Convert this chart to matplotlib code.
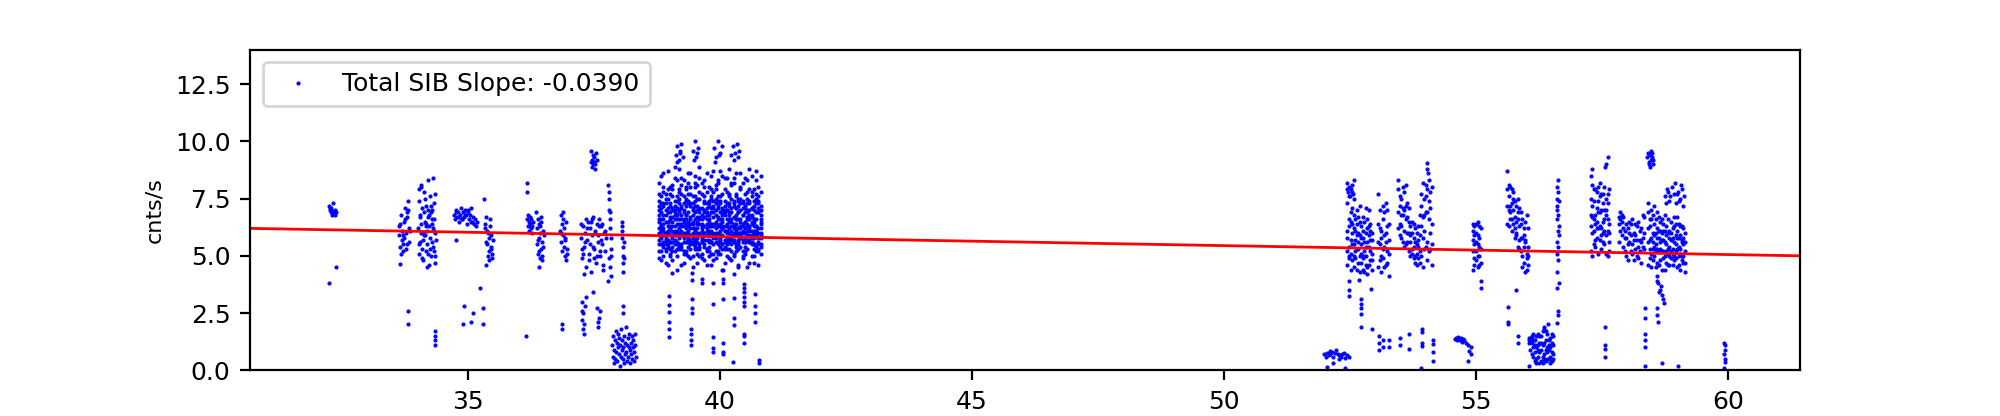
import numpy as np
import matplotlib
matplotlib.use('Agg')
import matplotlib.pyplot as plt

plt.rcParams['font.size'] = 9

# fit shown in the legend
fit_slope = -0.0390
fit_intercept = 7.396
x_lim = [30.67, 61.43]
y_lim = [0, 14]

# ---- single points (time, rate) ----
t_a = [32.24, 32.25, 32.27, 32.28, 32.30, 32.31, 32.33, 32.35, 32.36, 32.38, 32.26, 32.29, 32.34, 32.24, 32.38]
r_a = [7.2, 7.0, 6.9, 7.1, 6.8, 7.3, 6.9, 7.0, 6.8, 6.9, 7.1, 6.95, 6.85, 3.8, 4.5]

t_b = [33.62, 33.63, 33.65, 33.66, 33.68, 33.69, 33.70, 33.72, 33.73, 33.75, 33.76, 33.78, 33.79, 33.80, 33.82,
       33.83, 33.64, 33.67, 33.71, 33.74, 33.77, 33.81, 33.84, 33.70, 33.78, 33.65, 33.81, 33.81]
r_b = [5.9, 6.3, 5.4, 6.8, 5.7, 6.1, 5.2, 6.5, 5.8, 7.1, 6.0, 5.5, 6.7, 7.4, 6.2,
       5.6, 6.4, 5.1, 5.9, 6.6, 5.3, 7.0, 6.1, 5.5, 6.9, 4.65, 2.6, 2.0]

t_c = [34.01, 34.02, 34.03, 34.04, 34.05, 34.06, 34.07, 34.08, 34.09, 34.10, 34.11, 34.12, 34.13, 34.14, 34.15,
       34.16, 34.17, 34.18, 34.19, 34.20, 34.21, 34.22, 34.23, 34.24, 34.25, 34.26, 34.27, 34.28, 34.29, 34.30,
       34.31, 34.32, 34.33, 34.34, 34.35, 34.36, 34.02, 34.05, 34.08, 34.11, 34.14, 34.17, 34.20, 34.23, 34.26,
       34.29, 34.32, 34.35, 34.03, 34.07, 34.12, 34.16, 34.21, 34.25, 34.30, 34.34, 34.06, 34.18, 34.28, 34.33,
       34.34, 34.34, 34.34, 34.34]
r_c = [6.2, 5.1, 7.4, 6.8, 5.6, 8.0, 6.4, 5.3, 7.1, 6.0, 4.8, 6.9, 7.8, 5.9, 6.5,
       5.2, 7.2, 6.1, 5.5, 8.3, 6.7, 4.6, 6.3, 7.6, 5.8, 6.9, 5.0, 7.0, 6.4, 8.4,
       5.4, 6.6, 7.3, 4.7, 6.0, 5.7, 7.9, 6.7, 4.9, 5.7, 7.5, 6.3, 5.1, 6.8, 7.2,
       5.6, 6.1, 7.7, 5.5, 6.0, 5.9, 6.4, 7.0, 5.3, 6.2, 5.0, 8.1, 4.5, 6.6, 5.2,
       1.7, 1.5, 1.3, 1.1]

t_d = [34.72, 34.74, 34.76, 34.78, 34.80, 34.82, 34.84, 34.86, 34.88, 34.90, 34.92, 34.94, 34.96, 34.98, 35.00,
       35.02, 35.04, 35.06, 35.08, 35.10, 35.12, 35.14, 35.16, 35.18, 34.75, 34.81, 34.87, 34.93, 34.99, 35.05,
       34.75, 34.92, 34.90, 35.09, 35.05, 35.30, 35.30, 35.24,
       35.33, 35.35, 35.37, 35.39, 35.41, 35.43, 35.45, 35.47, 35.49, 35.34, 35.36, 35.38, 35.40, 35.42, 35.44,
       35.46, 35.48, 35.36, 35.41, 35.45, 35.32]
r_d = [6.8, 6.6, 7.0, 6.7, 6.9, 6.5, 6.8, 7.1, 6.6, 6.9, 6.7, 7.0, 6.8, 6.4, 6.9,
       6.6, 6.8, 7.1, 6.5, 6.7, 6.4, 6.6, 6.3, 6.5, 6.9, 6.7, 6.6, 6.8, 7.0, 6.5,
       5.7, 2.8, 2.0, 2.5, 2.1, 2.7, 2.0, 3.6,
       6.4, 5.6, 6.1, 5.0, 5.8, 6.6, 5.3, 4.9, 5.7, 6.2, 4.6, 5.5, 6.0, 5.2, 6.3,
       5.9, 5.1, 6.7, 4.8, 5.4, 7.5]

t_e = [36.16, 36.17, 36.17, 36.18, 36.19, 36.20, 36.21, 36.22, 36.23, 36.24, 36.25, 36.26, 36.27, 36.28, 36.40,
       36.34, 36.36, 36.37, 36.38, 36.39, 36.40, 36.41, 36.42, 36.43, 36.44, 36.45, 36.46, 36.47, 36.48, 36.49,
       36.50, 36.38, 36.42, 36.46, 36.40, 36.44, 36.15]
r_e = [8.2, 7.8, 6.6, 6.3, 6.8, 6.5, 6.1, 6.7, 6.4, 6.2, 6.6, 6.0, 6.3, 6.5, 4.5,
       6.9, 6.2, 5.5, 6.6, 5.1, 5.8, 6.4, 4.9, 6.0, 5.3, 6.7, 5.6, 5.0, 6.1, 5.4,
       5.9, 5.7, 6.3, 4.8, 5.2, 6.5, 1.5]

t_f = [36.83, 36.84, 36.85, 36.86, 36.87, 36.88, 36.89, 36.90, 36.91, 36.92, 36.93, 36.94, 36.95, 36.96,
       36.85, 36.89, 36.93, 36.97, 36.86, 36.86]
r_f = [6.1, 5.6, 6.8, 5.2, 6.4, 5.9, 6.9, 5.4, 6.2, 5.0, 5.7, 6.5, 4.8, 5.3,
       6.0, 6.6, 5.8, 5.1, 2.0, 1.8]

t_g = [37.23, 37.25, 37.27, 37.29, 37.31, 37.33, 37.35, 37.37, 37.39, 37.41, 37.43, 37.45, 37.47, 37.49, 37.51,
       37.53, 37.55, 37.57, 37.59, 37.61, 37.63, 37.65, 37.67, 37.69, 37.71, 37.73, 37.24, 37.28, 37.32, 37.36,
       37.40, 37.44, 37.48, 37.52, 37.56, 37.60, 37.64, 37.68, 37.72, 37.26, 37.34, 37.42, 37.50, 37.58, 37.66,
       37.30, 37.46, 37.62]
r_g = [5.8, 4.9, 6.3, 5.4, 6.0, 4.5, 5.7, 6.5, 5.1, 6.2, 4.3, 5.9, 6.7, 5.3, 6.1,
       4.7, 6.4, 5.6, 6.6, 5.0, 6.3, 5.5, 4.4, 6.0, 5.2, 5.8, 6.4, 5.1, 5.6, 6.2,
       4.8, 6.5, 5.4, 6.0, 5.0, 6.3, 5.7, 4.6, 6.1, 5.3, 6.6, 5.5, 4.9, 5.9, 6.4,
       4.2, 6.6, 5.2]

t_g_top = [37.43, 37.45, 37.46, 37.48, 37.49, 37.50, 37.52, 37.53, 37.55, 37.47, 37.51, 37.44,
           37.78, 37.79, 37.80, 37.81, 37.82, 37.83, 37.84, 37.79, 37.81, 37.83, 37.80, 37.82, 37.84, 37.78]
r_g_top = [9.6, 9.2, 8.9, 9.4, 9.1, 9.3, 9.0, 9.5, 9.2, 9.0, 8.8, 9.1,
           8.1, 7.5, 7.0, 6.6, 6.2, 5.8, 5.3, 4.9, 4.5, 4.1, 7.8, 6.9, 5.0, 3.9]

t_g_low = [37.25, 37.25, 37.26, 37.27, 37.28, 37.29, 37.30, 37.31, 37.56, 37.57, 37.58, 37.60, 37.62, 37.48, 37.34]
r_g_low = [3.0, 2.6, 2.2, 1.8, 2.5, 2.0, 1.6, 2.8, 2.7, 2.1, 1.9, 2.3, 2.6, 3.4, 3.2]

t_h = [37.86, 37.87, 37.88, 37.89, 37.90, 37.91, 37.92, 37.93, 37.94, 37.95, 37.96, 37.97, 37.98, 37.99, 38.00,
       38.01, 38.02, 38.03, 38.04, 38.05, 38.06, 38.07, 38.08, 38.09, 38.10, 38.11, 38.12, 38.13, 38.14, 38.15,
       38.16, 38.17, 38.18, 38.19, 38.20, 38.21, 38.22, 38.23, 38.24, 38.25, 38.26, 38.27, 38.28, 38.29, 38.30,
       38.31, 38.32, 38.33,
       38.05, 38.06, 38.06, 38.07, 38.07, 38.08, 38.08, 38.09, 38.05, 38.09, 38.07, 38.07]
r_h = [1.1, 0.6, 1.5, 0.3, 0.9, 1.3, 0.5, 1.7, 0.8, 1.2, 0.4, 1.0, 1.6, 0.7, 1.4,
       0.2, 1.1, 0.6, 1.8, 0.9, 1.3, 0.5, 1.0, 1.5, 0.3, 1.2, 0.7, 1.9, 0.8, 1.1,
       0.4, 1.4, 0.6, 1.0, 1.6, 0.9, 0.3, 1.2, 0.7, 1.5, 0.5, 1.0, 1.3, 0.8, 0.4,
       1.1, 1.6, 0.6,
       6.5, 6.1, 5.8, 5.4, 5.0, 4.7, 4.3, 5.6, 6.3, 4.9, 2.8, 2.5]

# ---- big orbit near 39-41 h: time columns and rate rows ----
t_i = [38.78, 38.83, 38.87, 38.92, 38.96, 39.01, 39.05, 39.10, 39.14, 39.19, 39.23, 39.28, 39.32, 39.37, 39.41,
       39.46, 39.50, 39.55, 39.59, 39.64, 39.68, 39.73, 39.77, 39.82, 39.86, 39.91, 39.95, 40.00, 40.04, 40.09,
       40.13, 40.18, 40.22, 40.27, 40.31, 40.36, 40.40, 40.45, 40.49, 40.54, 40.58, 40.63, 40.67, 40.72, 40.76,
       40.81]
r_i = [
    [6.2, 7.1, 5.6, 6.8, 7.9, 5.3, 6.5, 7.4, 6.0, 5.8, 7.7, 6.3, 5.1, 6.9, 7.2, 5.9, 6.6, 8.1, 5.4, 6.1, 7.0, 6.4, 5.7,
     7.6, 6.7, 5.2, 6.0, 7.3, 6.5, 8.4, 5.5, 6.8, 7.1, 6.2, 5.9, 7.5, 6.3, 5.0, 6.9, 7.8, 6.1, 5.6, 7.2, 6.6, 5.3, 6.4],
    [7.4, 5.9, 6.6, 5.2, 6.3, 7.7, 5.8, 6.1, 8.3, 6.9, 5.5, 7.0, 6.4, 5.7, 8.0, 6.2, 5.3, 6.7, 7.5, 5.9, 6.0, 7.8, 6.5,
     5.1, 7.1, 6.8, 7.6, 5.6, 6.2, 5.4, 7.3, 6.0, 5.8, 8.2, 6.6, 5.7, 7.0, 6.8, 5.4, 6.1, 7.9, 6.7, 5.5, 6.0, 7.4, 5.8],
    [5.5, 6.4, 7.8, 6.0, 5.4, 6.7, 8.1, 5.2, 6.6, 7.3, 6.1, 5.8, 7.5, 6.3, 5.6, 7.1, 8.0, 5.9, 6.4, 7.7, 5.4, 6.9, 7.2,
     6.3, 5.8, 7.9, 5.5, 6.6, 7.0, 6.1, 6.4, 7.7, 6.5, 5.6, 7.1, 6.2, 5.9, 7.4, 6.0, 5.3, 6.8, 7.6, 6.1, 5.2, 6.9, 7.2],
    [6.8, 5.2, 6.1, 7.3, 6.5, 5.9, 7.0, 6.3, 5.5, 7.8, 6.6, 7.3, 5.9, 8.2, 6.4, 5.6, 7.4, 6.2, 5.3, 6.8, 7.6, 5.7, 6.0,
     7.9, 6.3, 5.8, 6.7, 7.4, 5.3, 6.9, 7.8, 5.6, 6.3, 7.2, 5.4, 6.9, 7.5, 6.1, 5.8, 7.3, 5.9, 6.4, 7.0, 7.7, 6.0, 6.5],
    [7.0, 6.6, 5.4, 5.8, 7.5, 6.9, 5.6, 6.8, 7.1, 6.0, 5.3, 6.5, 7.9, 5.6, 6.7, 7.3, 6.1, 5.8, 7.0, 6.4, 5.5, 6.2, 8.0,
     5.9, 7.4, 6.4, 5.2, 6.1, 7.7, 6.3, 5.7, 6.9, 5.2, 6.7, 7.6, 5.5, 6.6, 5.7, 7.1, 6.4, 7.3, 5.5, 6.5, 6.3, 5.6, 7.8],
    [5.9, 7.6, 6.4, 6.5, 5.7, 7.2, 6.1, 5.5, 6.4, 5.4, 7.2, 6.0, 6.8, 7.4, 5.5, 6.5, 5.7, 7.2, 6.0, 8.2, 6.7, 5.3, 6.6,
     7.1, 5.5, 7.0, 6.3, 5.8, 6.6, 7.4, 6.1, 5.3, 7.5, 6.0, 6.8, 7.2, 5.4, 6.3, 7.7, 5.9, 6.2, 7.1, 5.8, 7.5, 6.9, 5.4],
    [6.5, 5.5, 7.2, 5.6, 6.9, 6.2, 7.6, 5.9, 6.8, 7.0, 6.3, 5.2, 6.6, 6.0, 7.7, 5.8, 6.9, 5.1, 6.7, 5.7, 7.3, 6.6, 5.4,
     6.1, 7.8, 5.6, 7.2, 6.9, 5.9, 6.1, 7.0, 6.5, 5.7, 7.3, 6.2, 5.9, 7.9, 6.4, 6.5, 7.0, 5.7, 6.1, 7.9, 5.9, 6.2, 6.8],
    [7.7, 6.1, 5.9, 7.0, 6.0, 5.6, 6.7, 7.2, 5.3, 6.4, 5.9, 6.9, 7.2, 5.4, 6.2, 7.0, 5.5, 6.4, 7.8, 6.3, 5.9, 7.1, 6.8,
     5.6, 6.4, 7.5, 5.9, 6.3, 7.1, 5.7, 6.6, 7.2, 5.9, 6.4, 5.5, 6.6, 6.2, 7.1, 5.6, 6.7, 7.4, 5.9, 6.6, 5.4, 7.1, 6.0],
    [4.9, 8.5, 5.0, 4.7, 8.7, 5.1, 4.8, 8.4, 5.0, 8.8, 4.6, 8.3, 5.2, 8.6, 4.9, 5.0, 8.5, 4.7, 8.4, 5.1, 4.8, 8.6, 5.0,
     4.6, 8.7, 4.9, 8.3, 5.1, 8.5, 4.7, 5.0, 8.8, 4.8, 8.4, 5.2, 4.5, 8.6, 4.9, 5.1, 8.3, 4.7, 8.5, 5.0, 8.7, 4.6, 5.1],
    [5.2, 6.3, 8.0, 5.5, 6.1, 5.0, 7.9, 6.0, 5.6, 7.5, 8.1, 5.1, 6.2, 7.7, 5.3, 6.8, 5.4, 7.5, 5.0, 6.6, 8.0, 5.2, 7.3,
     6.4, 5.1, 6.0, 8.2, 5.4, 6.8, 7.9, 5.3, 6.2, 8.1, 5.0, 7.7, 5.3, 6.0, 8.2, 5.2, 6.6, 5.6, 7.8, 5.3, 6.1, 8.0, 5.5],
    [6.0, 6.9, 7.3, 5.7, 6.5, 6.3, 5.4, 7.0, 7.6, 6.2, 6.8, 5.6, 7.4, 6.1, 5.9, 6.4, 7.2, 6.0, 5.5, 7.1, 6.3, 5.9, 7.4,
     6.9, 6.0, 6.5, 7.1, 5.7, 6.2, 6.8, 5.8, 7.3, 6.6, 5.9, 6.4, 6.9, 6.0, 5.6, 7.2, 6.3, 6.6, 5.8, 7.4, 6.3, 5.8, 7.0],
    [7.2, 5.8, 6.2, 7.5, 5.5, 6.6, 7.1, 5.7, 6.1, 7.9, 5.4, 6.6, 6.0, 7.3, 5.7, 7.6, 5.9, 6.5, 7.1, 5.6, 7.4, 6.1, 5.6,
     6.0, 7.2, 5.9, 6.6, 7.6, 5.5, 7.0, 6.3, 5.8, 6.9, 7.4, 6.1, 5.6, 7.3, 6.0, 6.5, 5.7, 7.0, 6.5, 5.5, 6.9, 7.6, 6.2],
    [5.7, 7.3, 6.8, 6.0, 7.1, 5.6, 6.3, 6.6, 7.4, 5.5, 6.4, 7.6, 5.6, 6.5, 7.3, 5.5, 6.2, 7.0, 6.6, 5.8, 6.9, 7.3, 6.1,
     5.6, 6.9, 7.3, 5.6, 6.4, 6.9, 5.6, 7.0, 6.6, 5.5, 6.3, 7.1, 6.0, 6.5, 7.3, 5.6, 6.9, 6.3, 7.1, 6.0, 7.3, 5.5, 6.6],
    [6.6, 6.2, 5.5, 7.7, 6.1, 7.3, 5.9, 6.9, 5.9, 6.6, 7.1, 5.9, 6.8, 5.8, 6.6, 6.0, 7.6, 5.6, 6.9, 6.2, 5.7, 6.8, 6.3,
     7.5, 5.9, 6.2, 7.4, 5.9, 6.3, 7.2, 6.0, 7.6, 6.1, 5.7, 6.6, 7.4, 5.8, 6.8, 6.2, 7.5, 5.6, 6.8, 6.3, 6.1, 7.3, 5.9],
    [8.2, 4.8, 8.6, 5.3, 4.6, 8.0, 5.2, 8.9, 4.4, 5.3, 8.4, 4.7, 8.0, 5.0, 8.6, 4.5, 8.2, 5.3, 8.9, 4.9, 8.3, 4.6, 5.2,
     8.5, 4.8, 8.1, 5.1, 8.7, 4.4, 5.3, 8.4, 4.9, 8.2, 5.1, 8.6, 4.6, 8.0, 5.2, 8.4, 4.5, 8.8, 5.0, 4.7, 8.3, 5.2, 8.5],
]

t_i_top = [39.12, 39.15, 39.18, 39.20, 39.23, 39.26, 39.14, 39.21, 39.47, 39.50, 39.53, 39.56, 39.49, 39.55,
           39.88, 39.92, 39.95, 39.99, 40.03, 39.90, 39.97, 40.22, 40.26, 40.30, 40.34, 40.38, 40.28, 40.36]
r_i_top = [9.4, 9.8, 9.2, 9.6, 9.9, 9.3, 9.1, 9.5, 9.6, 10.0, 9.3, 9.7, 9.2, 9.5,
           9.7, 9.3, 10.0, 9.5, 9.8, 9.1, 9.4, 9.4, 9.8, 9.5, 9.9, 9.6, 9.2, 9.3]

t_i_low = [39.05, 39.45, 39.45, 39.64, 39.64, 39.86, 40.06, 40.06, 40.06, 40.27, 40.48, 40.48, 40.48, 40.70,
           38.99, 38.99, 38.99, 38.99, 38.99, 38.99, 39.45, 39.45, 39.45, 39.42, 39.42, 39.42, 39.42,
           39.86, 39.86, 39.86, 39.86, 40.06, 40.06, 40.06, 40.06, 40.27, 40.27, 40.27,
           40.48, 40.48, 40.48, 40.48, 40.48, 40.48, 40.70, 40.70, 40.70, 40.25, 40.78, 40.78]
r_i_low = [4.24, 4.24, 3.95, 4.0, 3.8, 3.8, 4.4, 4.0, 3.8, 4.2, 3.75, 3.6, 3.4, 3.35,
           3.25, 2.85, 2.54, 2.1, 1.8, 1.45, 3.1, 2.7, 2.5, 1.8, 1.6, 1.3, 1.1,
           2.9, 1.45, 0.98, 0.8, 3.1, 1.2, 0.8, 0.7, 3.15, 2.3, 1.96,
           3.2, 3.0, 2.8, 1.6, 1.5, 1.2, 2.8, 2.5, 2.1, 0.35, 0.45, 0.3]

# ---- second group of orbits (52-60 h) ----
t_j = [51.98, 52.02, 52.05, 52.08, 52.11, 52.14, 52.17, 52.20, 52.23, 52.26, 52.29, 52.32, 52.35, 52.38, 52.41,
       52.44, 52.47, 52.04, 52.16, 52.28, 52.40, 52.10]
r_j = [0.7, 0.6, 0.75, 0.65, 0.7, 0.8, 0.6, 0.75, 0.9, 0.7, 0.65, 0.6, 0.7, 0.75, 0.55,
       0.65, 0.6, 0.15, 0.3, 0.5, 0.1, 0.85]

t_k = [52.45, 52.48, 52.51, 52.54, 52.57, 52.60, 52.63, 52.66, 52.69, 52.72, 52.75, 52.78, 52.81, 52.84, 52.87,
       52.90, 52.93]
r_k = [
    [5.8, 6.3, 5.1, 6.0, 5.5, 4.9, 6.4, 5.3, 5.9, 4.7, 6.1, 5.6, 5.0, 6.2, 5.4, 4.8, 5.7],
    [4.6, 5.4, 6.5, 4.8, 6.2, 5.7, 4.4, 6.0, 5.0, 6.3, 4.9, 5.2, 6.0, 4.5, 5.9, 6.4, 5.1],
    [6.1, 4.9, 5.7, 6.4, 4.5, 6.1, 5.3, 4.7, 6.5, 5.5, 5.8, 6.5, 4.6, 5.6, 6.3, 5.2, 4.4],
    [5.2, 6.6, 4.4, 5.5, 6.8, 5.2, 5.9, 6.7, 4.3, 5.1, 4.4, 4.3, 5.4, 6.6, 4.6, 5.7, 6.0],
    [7.3, 5.0, 6.9, 7.1, 5.0, 6.6, 7.0, 5.6, 7.2, 5.8, 6.7, 5.0, 7.1, 4.2, 7.0, 6.1, 4.8],
]
t_k_extra = [52.44, 52.46, 52.48, 52.50, 52.52, 52.54, 52.56, 52.58, 52.47, 52.53, 52.45, 52.57,
             52.48, 52.48, 52.48, 52.68, 52.92, 52.71, 52.71, 52.71, 52.71, 52.72, 52.93]
r_k_extra = [8.2, 7.8, 8.0, 7.6, 7.9, 8.1, 7.7, 7.5, 7.6, 7.8, 7.9, 8.3,
             3.9, 3.5, 3.25, 3.95, 3.55, 3.1, 2.9, 2.7, 2.45, 1.9, 1.8]

t_l = [53.06, 53.09, 53.12, 53.15, 53.18, 53.21, 53.24, 53.27]
r_l = [
    [5.6, 6.2, 5.0, 6.6, 5.4, 6.0, 5.2, 6.4],
    [6.4, 4.8, 5.8, 5.3, 6.9, 4.6, 6.3, 5.7],
    [4.5, 7.0, 6.1, 4.9, 5.9, 7.3, 4.7, 5.1],
    [7.7, 5.5, 4.3, 7.2, 4.5, 5.6, 7.0, 4.1],
]

t_m = [53.46, 53.49, 53.52, 53.55, 53.58, 53.61, 53.64, 53.67, 53.70, 53.73, 53.76, 53.79, 53.82, 53.85, 53.88,
       53.91, 53.94, 53.97, 54.00, 54.03, 54.06, 54.09, 54.12]
r_m = [
    [7.9, 6.4, 7.5, 6.8, 6.1, 7.2, 5.6, 6.5, 5.9, 5.3, 5.8, 6.2, 5.1, 5.7, 6.8, 7.7, 8.2, 7.5, 6.9, 7.9, 8.3, 7.1, 6.4],
    [6.9, 7.6, 5.8, 7.1, 7.8, 5.5, 6.7, 5.2, 6.3, 6.0, 5.4, 5.0, 6.0, 5.4, 5.2, 6.3, 5.8, 6.8, 8.1, 5.6, 7.4, 6.0, 5.5],
    [8.3, 5.9, 6.8, 8.0, 5.4, 6.6, 7.3, 6.0, 5.6, 5.1, 4.9, 5.6, 4.6, 6.3, 5.9, 5.0, 6.7, 5.3, 5.4, 6.9, 5.2, 7.8, 8.0],
    [6.2, 7.2, 6.3, 5.6, 7.0, 8.1, 6.0, 7.1, 5.0, 6.5, 6.4, 4.7, 5.5, 4.9, 4.7, 7.2, 4.5, 6.1, 7.6, 4.8, 6.6, 5.3, 4.6],
]
t_m_extra = [54.02, 54.02, 54.05,
             53.07, 53.07, 53.07, 53.16, 53.16, 53.28, 53.28, 53.49, 53.49, 53.68, 53.68,
             53.92, 53.92, 53.92, 53.92, 54.14, 54.14, 54.14, 54.14, 53.90]
r_m_extra = [9.07, 8.8, 8.6,
             1.5, 1.2, 0.9, 1.3, 1.0, 1.3, 1.0, 1.4, 1.1, 1.6, 0.95,
             1.8, 1.65, 1.2, 1.05, 1.3, 1.15, 0.8, 0.4, 0.1]

t_n = [54.58, 54.60, 54.62, 54.64, 54.66, 54.68, 54.70, 54.72, 54.74, 54.76, 54.80, 54.84, 54.86, 54.90, 54.90, 54.85]
r_n = [1.35, 1.4, 1.3, 1.45, 1.35, 1.3, 1.4, 1.25, 1.35, 1.3, 1.2, 1.1, 0.85, 1.0, 0.7, 0.4]

t_o = [54.94, 54.97, 55.00, 55.03, 55.06, 55.09]
r_o = [
    [6.1, 5.5, 6.4, 5.0, 5.8, 5.3],
    [5.2, 6.3, 4.8, 5.9, 4.6, 6.2],
    [5.7, 4.9, 5.6, 6.5, 5.4, 4.7],
    [4.4, 5.9, 6.0, 4.5, 6.3, 3.6],
    [6.4, 4.6, 5.2, 5.5, 5.0, 3.9],
]

t_p = [55.62, 55.65, 55.68, 55.71, 55.74, 55.77, 55.80, 55.83, 55.86, 55.89, 55.92, 55.95, 55.98, 56.01, 56.04]
r_p = [
    [7.9, 8.1, 6.6, 7.3, 7.0, 5.8, 6.5, 6.9, 6.3, 5.8, 4.5, 5.9, 6.5, 4.9, 5.4],
    [6.4, 7.0, 8.0, 6.6, 7.5, 6.2, 7.2, 5.4, 5.7, 6.4, 5.8, 4.7, 5.6, 6.8, 4.6],
    [7.2, 6.3, 6.9, 7.9, 6.4, 7.4, 5.9, 6.6, 7.1, 5.2, 6.6, 5.4, 4.3, 5.1, 6.2],
    [8.7, 7.6, 7.2, 6.1, 7.8, 6.7, 6.0, 7.5, 5.3, 6.9, 5.0, 6.2, 5.7, 4.4, 5.0],
]
t_p_extra = [55.63, 55.63, 55.63, 55.83, 55.83, 55.80]
r_p_extra = [2.78, 2.1, 2.0, 1.5, 1.2, 3.5]

t_q = [56.05, 56.08, 56.11, 56.14, 56.17, 56.20, 56.23, 56.26, 56.29, 56.32, 56.35, 56.38, 56.41, 56.44, 56.47,
       56.50, 56.53]
r_q = [
    [1.3, 1.4, 1.2, 1.0, 0.8, 1.5, 0.6, 1.2, 0.9, 1.7, 0.7, 1.3, 1.0, 0.5, 1.4, 0.8, 1.1],
    [1.4, 1.25, 1.35, 0.6, 1.3, 0.5, 1.1, 0.3, 1.5, 0.6, 1.2, 0.4, 1.6, 0.9, 0.6, 1.2, 0.5],
    [1.2, 1.35, 1.5, 1.3, 0.4, 1.0, 1.6, 0.8, 0.4, 1.1, 1.8, 0.9, 0.5, 1.3, 1.0, 0.4, 1.5],
    [0.2, 0.9, 0.7, 1.6, 1.1, 0.3, 0.9, 1.5, 1.2, 0.3, 0.5, 1.7, 0.8, 1.1, 0.3, 1.6, 0.7],
]

t_r = [56.62, 56.60, 56.63, 56.60, 56.64, 56.61, 56.63, 56.60, 56.62, 56.64, 56.61, 56.63, 56.60, 56.62, 56.60,
       56.64, 56.61, 56.63, 56.62, 56.60, 56.64, 56.61, 56.42, 56.34]
r_r = [8.3, 8.0, 7.8, 7.5, 7.4, 7.0, 6.8, 6.6, 6.1, 5.9, 5.6, 5.4, 5.1, 4.8, 4.3,
       3.8, 3.6, 2.6, 2.4, 2.05, 6.3, 7.2, 2.0, 1.9]

t_s = [57.28, 57.31, 57.34, 57.37, 57.40, 57.43, 57.46, 57.49, 57.52, 57.55, 57.58, 57.61, 57.64]
r_s = [
    [8.5, 7.2, 6.6, 7.9, 5.8, 7.4, 6.9, 6.2, 7.7, 5.5, 6.8, 7.3, 6.0],
    [6.3, 8.1, 5.5, 6.8, 7.1, 6.2, 7.6, 5.3, 6.5, 7.0, 5.9, 6.1, 7.9],
    [5.2, 6.7, 7.4, 5.4, 6.5, 8.0, 5.7, 7.0, 6.0, 6.6, 7.5, 5.0, 5.6],
    [7.5, 5.0, 6.1, 6.4, 7.8, 5.1, 6.3, 7.7, 5.6, 6.1, 7.0, 6.6, 5.2],
    [6.8, 6.0, 7.9, 5.7, 6.2, 6.9, 8.2, 5.9, 7.3, 8.0, 5.1, 7.7, 6.4],
]
t_s_extra = [57.62, 57.58, 57.56, 57.30, 57.56, 57.56, 57.56, 57.56]
r_s_extra = [9.3, 9.0, 8.9, 8.8, 1.9, 1.1, 0.95, 0.6]

t_t = [57.83, 57.86, 57.89, 57.92, 57.95, 57.98, 58.01, 58.04, 58.07, 58.10, 58.13, 58.16, 58.19, 58.22, 58.25,
       58.28, 58.31, 58.34]
r_t = [
    [6.7, 6.9, 6.5, 6.2, 5.8, 6.4, 5.5, 6.0, 5.2, 6.6, 5.7, 5.9, 6.3, 5.4, 6.1, 5.6, 6.8, 5.3],
    [6.4, 6.6, 6.8, 5.4, 6.1, 5.0, 6.2, 5.6, 6.4, 5.1, 6.0, 5.3, 5.0, 6.5, 5.7, 6.2, 5.4, 6.0],
    [5.6, 6.1, 5.9, 6.7, 5.2, 5.8, 4.8, 6.5, 5.9, 5.5, 4.8, 6.4, 5.7, 4.9, 5.2, 4.7, 5.8, 6.7],
]

t_u = [58.42, 58.45, 58.48, 58.51, 58.54, 58.57, 58.60, 58.63, 58.66, 58.69, 58.72, 58.75, 58.78, 58.81, 58.84,
       58.87, 58.90, 58.93, 58.96, 58.99, 59.02, 59.05, 59.08, 59.11, 59.14]
r_u = [
    [5.6, 6.3, 5.1, 6.8, 5.4, 6.0, 4.7, 5.8, 6.5, 5.2, 4.9, 6.1, 5.5, 6.6, 5.0, 5.7, 6.2, 4.8, 5.9, 5.3, 6.4, 5.1, 5.6,
     4.7, 6.0],
    [6.9, 4.9, 5.8, 5.3, 6.4, 4.5, 6.2, 5.2, 4.8, 6.0, 5.7, 5.0, 6.3, 4.6, 5.8, 6.5, 5.1, 5.6, 4.9, 6.1, 5.4, 5.9, 4.8,
     5.5, 5.2],
    [4.6, 5.7, 6.6, 4.8, 5.9, 5.5, 5.3, 6.7, 5.6, 4.4, 6.4, 5.6, 4.7, 5.3, 6.1, 4.9, 5.8, 6.3, 5.2, 4.5, 5.0, 6.3, 5.7,
     6.2, 4.7],
    [6.2, 5.3, 4.5, 6.0, 5.0, 6.6, 5.8, 4.6, 6.1, 5.7, 5.2, 6.8, 5.9, 5.1, 4.6, 6.0, 5.3, 5.0, 6.4, 5.8, 4.6, 5.3, 6.3,
     5.0, 5.6],
    [7.3, 6.6, 7.0, 5.6, 7.2, 5.2, 6.9, 6.1, 5.3, 6.6, 6.1, 4.4, 5.2, 6.0, 5.4, 5.2, 4.6, 6.7, 5.5, 6.7, 5.8, 4.4, 5.0,
     5.8, 4.3],
]
t_u_extra = [58.40, 58.42, 58.44, 58.46, 58.48, 58.50, 58.52, 58.45, 58.49, 58.43, 58.47, 58.51,
             58.76, 58.80, 58.84, 58.88, 58.92, 58.96, 59.00, 59.04, 59.08, 59.12, 58.78, 58.86, 58.94, 59.02, 59.10,
             58.82, 58.98, 59.06,
             58.60, 58.62, 58.66, 58.70, 58.72, 58.74, 58.64, 58.68, 58.60,
             58.35, 58.36, 58.36, 58.35, 58.36, 58.60, 58.60, 58.61, 58.70, 58.36, 59.00]
r_u_extra = [9.3, 9.5, 9.1, 9.4, 9.2, 9.5, 9.0, 8.9, 9.3, 9.0, 9.6, 9.2,
             7.6, 7.9, 7.4, 8.0, 7.7, 7.3, 7.8, 7.5, 7.9, 7.6, 7.3, 7.6, 8.2, 7.4, 7.2,
             7.8, 7.7, 8.1,
             4.1, 3.8, 3.5, 3.3, 3.1, 2.95, 3.4, 3.7, 3.9,
             2.7, 2.3, 1.6, 1.3, 1.0, 2.7, 2.4, 2.1, 0.3, 0.2, 0.2]

t_v = [59.93, 59.94, 59.95, 59.93, 59.95, 59.94, 59.93]
r_v = [1.2, 1.1, 0.9, 0.7, 0.5, 0.35, 0.1]


def expand(t, rows):
    rows = np.asarray(rows)
    return np.tile(t, rows.shape[0]), rows.ravel()


pieces_t = [t_a, t_b, t_c, t_d, t_e, t_f, t_g, t_g_top, t_g_low, t_h, t_i_top, t_i_low, t_j,
            t_k_extra, t_m_extra, t_n, t_p_extra, t_r, t_s_extra, t_u_extra, t_v]
pieces_r = [r_a, r_b, r_c, r_d, r_e, r_f, r_g, r_g_top, r_g_low, r_h, r_i_top, r_i_low, r_j,
            r_k_extra, r_m_extra, r_n, r_p_extra, r_r, r_s_extra, r_u_extra, r_v]
for t, rows in [(t_i, r_i), (t_k, r_k), (t_l, r_l), (t_m, r_m), (t_o, r_o), (t_p, r_p),
                (t_q, r_q), (t_s, r_s), (t_t, r_t), (t_u, r_u)]:
    tt, rr = expand(t, rows)
    pieces_t.append(tt)
    pieces_r.append(rr)

time = np.concatenate([np.asarray(p, dtype=float) for p in pieces_t])
rate = np.concatenate([np.asarray(p, dtype=float) for p in pieces_r])

fig, ax = plt.subplots(figsize=(10, 2.08), dpi=200)
ax.plot(time, rate, 'b.', markersize=1, label='Total SIB Slope: %.4f' % fit_slope)
x_fit = np.array(x_lim)
ax.plot(x_fit, fit_intercept + fit_slope * x_fit, 'r-', linewidth=1)
ax.set_xlim(x_lim)
ax.set_ylim(y_lim)
ax.set_ylabel('cnts/s', fontsize=8)
ax.legend(loc='upper left')
fig.savefig('out.png', dpi=200)
